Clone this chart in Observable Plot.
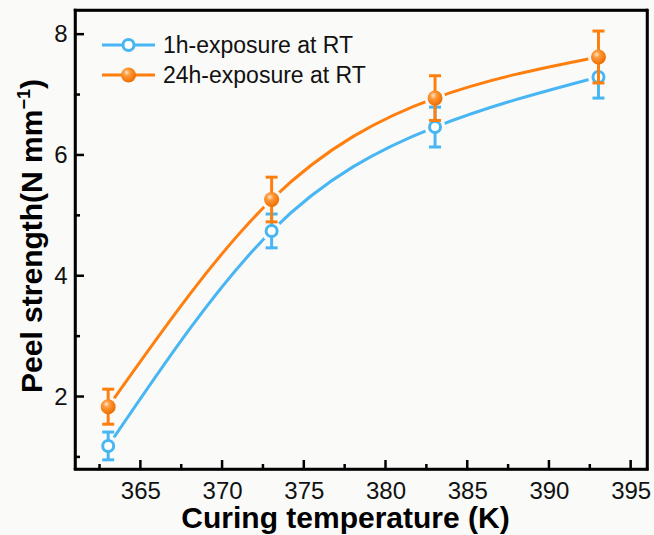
<!DOCTYPE html>
<html><head><meta charset="utf-8">
<script src="https://cdn.jsdelivr.net/npm/d3@7"></script>
<script src="https://cdn.jsdelivr.net/npm/@observablehq/plot@0.6"></script>
<style>
body{margin:0;background:#fafaf9;}
#chart{position:relative;width:654px;height:535px;}
#chart svg{background:#fafaf9;font-family:'Liberation Sans',Arial,sans-serif;color:#111;}
</style></head><body><div id="chart"></div>
<script>
const temperatures = [363, 373, 383, 393];
const strength1h = [1.19, 4.75, 6.47, 7.30];
const error1h = [0.23, 0.28, 0.33, 0.35];
const strength24h = [1.84, 5.27, 6.95, 7.63];
const error24h = [0.29, 0.37, 0.37, 0.43];
const seriesNames = ["1h-exposure at RT", "24h-exposure at RT"];
const xTicks = [365, 370, 375, 380, 385, 390, 395];
const xMinorTicks = [362.5, 367.5, 372.5, 377.5, 382.5, 387.5, 392.5];
const yTicks = [2, 4, 6, 8];
const yMinorTicks = [1, 3, 5, 7];
const xTitle = "Curing temperature (K)";
const yTitle = "Peel strength(N mm";
const ySup = "\u22121";

const BG = "#fafaf9";
const BLUE = "#47b6f3";
const ORANGE = "#ff7f0e";
const INK = "#000000";
const FONT = "Liberation Sans, Arial, sans-serif";

const W = 654, H = 535, ML = 75, MR = 7, MT = 10, MB = 66;
const FW = W - ML - MR, FH = H - MT - MB;

const rows1 = temperatures.map((t, i) => ({t, v: strength1h[i], lo: strength1h[i] - error1h[i], hi: strength1h[i] + error1h[i]}));
const rows24 = temperatures.map((t, i) => ({t, v: strength24h[i], lo: strength24h[i] - error24h[i], hi: strength24h[i] + error24h[i]}));

const hline = {draw(ctx, size) { const w = Math.sqrt(size / Math.PI); ctx.moveTo(-w, 0); ctx.lineTo(w, 0); }};

const svg = Plot.plot({
  width: W, height: H,
  marginLeft: ML, marginRight: MR, marginTop: MT, marginBottom: MB,
  x: {domain: [361, 396]},
  y: {domain: [0.8, 8.4]},
  marks: [
    Plot.axisX({ticks: xTicks, tickSize: 0, tickPadding: 12, fontSize: 24, label: null}),
    Plot.axisY({ticks: yTicks, tickSize: 0, tickPadding: 8, fontSize: 24, label: null}),
    Plot.line(rows1, {x: "t", y: "v", stroke: BLUE, strokeWidth: 3, curve: "natural"}),
    Plot.line(rows24, {x: "t", y: "v", stroke: ORANGE, strokeWidth: 3, curve: "natural"}),
    Plot.dot(rows1.concat(rows24), {x: "t", y: "v", r: 10.5, fill: BG}),
    Plot.ruleX(rows1, {x: "t", y1: "lo", y2: "hi", stroke: BLUE, strokeWidth: 3}),
    Plot.dot(rows1, {x: "t", y: "lo", symbol: hline, r: 6, stroke: BLUE, strokeWidth: 3}),
    Plot.dot(rows1, {x: "t", y: "hi", symbol: hline, r: 6, stroke: BLUE, strokeWidth: 3}),
    Plot.dot(rows1, {x: "t", y: "v", r: 5.5, fill: "white", stroke: BLUE, strokeWidth: 3}),
    Plot.ruleX(rows24, {x: "t", y1: "lo", y2: "hi", stroke: ORANGE, strokeWidth: 3}),
    Plot.dot(rows24, {x: "t", y: "lo", symbol: hline, r: 6, stroke: ORANGE, strokeWidth: 3}),
    Plot.dot(rows24, {x: "t", y: "hi", symbol: hline, r: 6, stroke: ORANGE, strokeWidth: 3}),
    Plot.dot(rows24, {x: "t", y: "v", r: 7.5, fill: "url(#orangeBall)"}),
    Plot.frame({stroke: INK, strokeWidth: 2.5}),
    Plot.text([xTitle], {text: d => d, frameAnchor: "bottom", dy: 49, dx: -16, fontSize: 30, fontWeight: "bold", lineAnchor: "middle", fill: "black"}),
    Plot.text([yTitle], {text: d => d, frameAnchor: "left", rotate: -90, dx: -43, dy: -4, textAnchor: "middle", lineAnchor: "middle", fontSize: 30, fontWeight: "bold", fill: "black"})
  ]
});

const root = d3.select(svg);
const defs = root.append("defs");
const grad = defs.append("radialGradient").attr("id", "orangeBall").attr("cx", "40%").attr("cy", "38%").attr("r", "62%").attr("fx", "38%").attr("fy", "32%");
grad.append("stop").attr("offset", "0%").attr("stop-color", "#ffe6cc");
grad.append("stop").attr("offset", "35%").attr("stop-color", "#ff9a3a");
grad.append("stop").attr("offset", "100%").attr("stop-color", "#ee6e00");

// frame and inward ticks as filled shapes, positioned from Plot's own scales
const sx = svg.scale("x"), sy = svg.scale("y");
const xl = Math.min(...sx.range), xr = Math.max(...sx.range);
const yt = Math.min(...sy.range), yb = Math.max(...sy.range);
const lw = 2.5;
const axisG = root.append("g").attr("fill", "#000").attr("stroke", "none");
axisG.append("rect").attr("x", xl - lw / 2).attr("y", yt - lw / 2).attr("width", xr - xl + lw).attr("height", lw);
axisG.append("rect").attr("x", xl - lw / 2).attr("y", yb - lw / 2).attr("width", xr - xl + lw).attr("height", lw);
axisG.append("rect").attr("x", xl - lw / 2).attr("y", yt - lw / 2).attr("width", lw).attr("height", yb - yt + lw);
axisG.append("rect").attr("x", xr - lw / 2).attr("y", yt - lw / 2).attr("width", lw).attr("height", yb - yt + lw);
const tickRectX = (v, len) => axisG.append("rect").attr("x", sx.apply(v) - lw / 2).attr("y", yb - len).attr("width", lw).attr("height", len);
const tickRectY = (v, len) => axisG.append("rect").attr("x", xl).attr("y", sy.apply(v) - lw / 2).attr("width", len).attr("height", lw);
xTicks.forEach(v => tickRectX(v, 9));
xMinorTicks.forEach(v => tickRectX(v, 5));
yTicks.forEach(v => tickRectY(v, 9));
yMinorTicks.forEach(v => tickRectY(v, 5));

root.selectAll("text").filter(function() { return this.textContent === yTitle; }).each(function() {
  const t = d3.select(this);
  t.append("tspan").attr("font-size", 18).attr("dy", -12).text(ySup);
  t.append("tspan").attr("dy", 12).text(")");
});

const legend = root.append("g").attr("font-family", FONT).attr("font-size", 23).attr("text-anchor", "start");
[[seriesNames[0], BLUE, false], [seriesNames[1], ORANGE, true]].forEach(([name, color, filled], i) => {
  const y = 45 + i * 30;
  const g = legend.append("g");
  g.append("line").attr("x1", 102).attr("x2", 155).attr("y1", y).attr("y2", y).attr("stroke", color).attr("stroke-width", 3);
  if (filled) {
    g.append("circle").attr("cx", 128.5).attr("cy", y).attr("r", 7.5).attr("fill", "url(#orangeBall)");
  } else {
    g.append("circle").attr("cx", 128.5).attr("cy", y).attr("r", 5.5).attr("fill", "white").attr("stroke", color).attr("stroke-width", 3);
  }
  g.append("text").attr("x", 163).attr("y", y).attr("dy", "0.36em").attr("fill", "#111").text(name);
});

document.getElementById("chart").appendChild(svg);
</script>
</body></html>
